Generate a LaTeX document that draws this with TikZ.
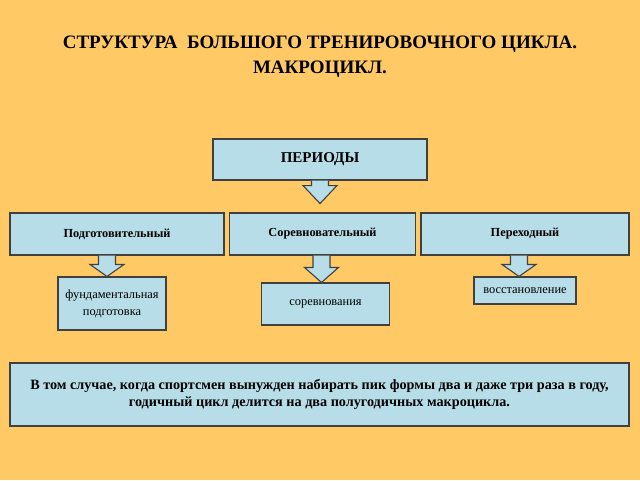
\documentclass[tikz,border=0pt]{standalone}
\usepackage{fontspec}
\setmainfont{Liberation Serif}
\usepackage{tikz}
\usetikzlibrary{calc}
\definecolor{sheet}{HTML}{FFC966}
\definecolor{boxfill}{HTML}{B7DEE8}
\definecolor{boxline}{HTML}{404040}
\tikzset{
  periodbox/.style={draw=boxline, fill=boxfill, line width=1.1pt, inner sep=0pt, align=center},
  arrowshape/.style={draw=boxline, fill=boxfill, line width=1.1pt, line join=miter}
}
% block arrow: source node, tip point, head length
\newcommand{\blockarrow}[3]{%
  \path (#2) coordinate (tip) (#1.south -| tip) coordinate (root);
  \draw[arrowshape] ($(root)+(-8.5,0)$) -- ($(tip)+(-8.5,#3)$) -- ($(tip)+(-17,#3)$)
    -- (tip) -- ($(tip)+(17,#3)$) -- ($(tip)+(8.5,#3)$) -- ($(root)+(8.5,0)$);
}

\begin{document}
\begin{tikzpicture}[x=1pt, y=-1pt]
			\fill[sheet] (0,0) rectangle (640,480);
			\useasboundingbox (0,0) rectangle (640,480);

			\node[align=center, font=\fontsize{19}{25}\selectfont\bfseries] (title) at (320,57)
				{СТРУКТУРА\ \ БОЛЬШОГО ТРЕНИРОВОЧНОГО ЦИКЛА.\\МАКРОЦИКЛ.};

			% Periods
			\node[periodbox, minimum width=214pt, minimum height=41pt, font=\fontsize{15}{17}\selectfont\bfseries] (per) at (320,159.5) {ПЕРИОДЫ};
			\node[periodbox, minimum width=214pt, minimum height=42pt, font=\fontsize{12.3}{14}\selectfont\bfseries] (prep) at (117,234) {Подготовительный};
			\node[periodbox, minimum width=186pt, minimum height=42pt, font=\fontsize{12.3}{14}\selectfont\bfseries] (comp) at (322.5,234) {Соревновательный};
			\node[periodbox, minimum width=208pt, minimum height=42pt, font=\fontsize{12.3}{14}\selectfont\bfseries] (trans) at (525,234) {Переходный};

			% Tasks
			\node[periodbox, minimum width=108pt, minimum height=53pt, font=\fontsize{12.4}{17}\selectfont] (base) at (112,303.5) {фундаментальная\\подготовка};
			\node[periodbox, minimum width=128pt, minimum height=42pt, font=\fontsize{12.4}{14}\selectfont] (race) at (325.5,304) {соревнования};
			\node[periodbox, minimum width=102pt, minimum height=27pt, font=\fontsize{12.4}{14}\selectfont] (rest) at (525,290.5) {восстановление};

			% Note
			\node[periodbox, minimum width=619pt, minimum height=63pt, font=\fontsize{14.2}{17}\selectfont\bfseries] (note) at (319.5,394.5)
				{В том случае, когда спортсмен вынужден набирать пик формы два и даже три раза в году,\\годичный цикл делится на два полугодичных макроцикла.};

			% Arrows
			\blockarrow{per}{$(per.south)+(0,23)$}{-18}
			\blockarrow{prep}{$(base.north)+(-5,0)$}{-12}
			\blockarrow{comp}{$(race.north)+(-4,0)$}{-15}
			\blockarrow{trans}{$(rest.north)+(-6,0)$}{-12}
		\end{tikzpicture}
\end{document}
